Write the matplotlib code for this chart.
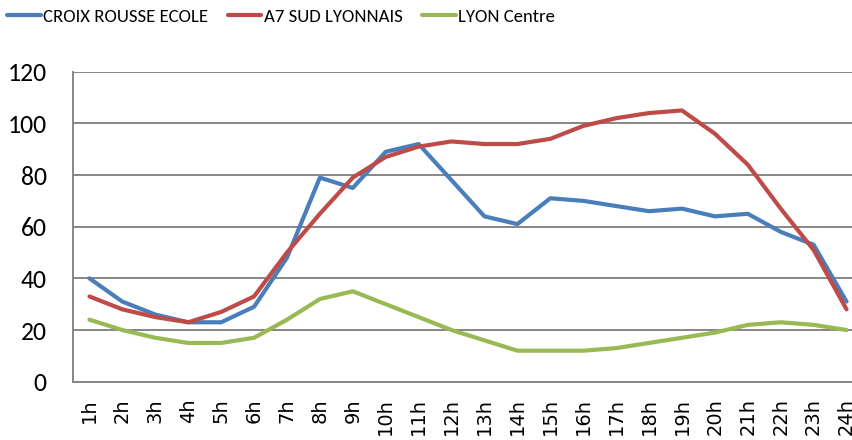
import matplotlib
import matplotlib.pyplot as plt

matplotlib.use('Agg')

hours = [f"{h}h" for h in range(1, 25)]

croix_rousse = [40, 31, 26, 23, 23, 29, 48, 79, 75, 89, 92, 78,
                64, 61, 71, 70, 68, 66, 67, 64, 65, 58, 53, 31]
a7_sud = [33, 28, 25, 23, 27, 33, 50, 65, 79, 87, 91, 93,
          92, 92, 94, 99, 102, 104, 105, 96, 84, 67, 51, 28]
lyon_centre = [24, 20, 17, 15, 15, 17, 24, 32, 35, 30, 25, 20,
               16, 12, 12, 12, 13, 15, 17, 19, 22, 23, 22, 20]

series = [
    ("CROIX ROUSSE ECOLE", croix_rousse, "#4A7EBB"),
    ("A7 SUD LYONNAIS", a7_sud, "#BE4B48"),
    ("LYON Centre", lyon_centre, "#98B954"),
]

fig = plt.figure(figsize=(8.52, 4.40), dpi=100)
ax = fig.add_axes([73 / 852, 58.3 / 440, 790 / 852, 310 / 440])

x = range(len(hours))
for name, vals, col in series:
    ax.plot(x, vals, color=col, linewidth=3.0, label=name,
            solid_joinstyle='round', solid_capstyle='round')

ax.set_xlim(-0.5, len(hours) - 0.5)
ax.set_ylim(0, 120)
ax.set_yticks(range(0, 121, 20))
ax.set_xticks(list(x))
ax.set_xticklabels(hours, rotation=90, fontsize=14, family='DejaVu Sans',
                   va='top')
for lab in ax.get_yticklabels():
    lab.set_family('Carlito')
    lab.set_fontsize(18.5)

ax.grid(axis='y', color='#868686', linewidth=1.4)
ax.set_axisbelow(True)
ax.tick_params(length=0)
ax.tick_params(axis='y', pad=19)
ax.tick_params(axis='x', pad=12)
for side in ['top', 'right']:
    ax.spines[side].set_visible(False)
for side in ['left', 'bottom']:
    ax.spines[side].set_color('#868686')
    ax.spines[side].set_linewidth(1.4)

fig.legend(loc='center left', bbox_to_anchor=(7 / 852, 1 - 17 / 440), ncol=3,
           frameon=False, prop={'family': 'Carlito', 'size': 13.5},
           borderpad=0, borderaxespad=0,
           handlelength=1.8, handletextpad=0.12, columnspacing=1.05)

fig.savefig('out.png', dpi=100)
